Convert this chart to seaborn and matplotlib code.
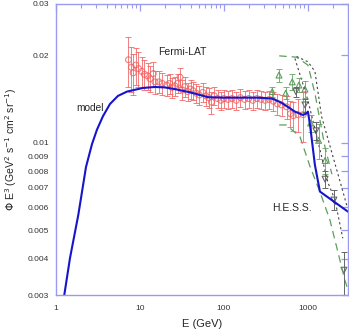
import numpy as np
import pandas as pd
import matplotlib
matplotlib.use('Agg')
import matplotlib.pyplot as plt
import seaborn as sns
from matplotlib.ticker import FixedLocator, NullFormatter, LogLocator

# model curve
model_E = [1.255, 1.468, 1.842, 2.276, 2.683, 3.076, 3.626, 4.394, 5.47, 7.0, 10.86, 15.1, 20, 26,
           40, 65, 100, 164, 250, 373, 470, 578, 700, 872, 950, 1000, 1060, 1210, 1390, 3000]
model_V = [0.0030, 0.00402, 0.00565, 0.00826, 0.00990, 0.01110, 0.01235, 0.01360, 0.0145, 0.01500,
           0.01544, 0.01556, 0.0155, 0.0153, 0.0149, 0.01435, 0.0143, 0.0143, 0.0143, 0.0142,
           0.0138, 0.01328, 0.0128, 0.01247, 0.0126, 0.0128, 0.0115, 0.0084, 0.0068, 0.0058]

# Fermi-LAT points
fermi_E = [7.3, 7.9, 8.3, 8.9, 9.6, 10.5, 11.3, 12.3, 13.2, 14.4, 15.1, 16.8, 18.4, 20.8, 22.5,
           24, 26, 28, 30, 32, 34, 37, 40, 43, 47, 51, 56, 61, 66, 71, 77, 84, 92, 100, 112,
           125, 140, 157, 176, 197, 220, 247, 276, 309, 346, 388, 434, 486, 557, 620, 668, 760, 879]
fermi_V = [0.0193, 0.0182, 0.0174, 0.0185, 0.0180, 0.0176, 0.0172, 0.0170, 0.0166, 0.0173,
           0.0162, 0.0162, 0.0160, 0.0158, 0.0160, 0.0155, 0.0157, 0.0160, 0.0168, 0.0152,
           0.0156, 0.0150, 0.0153, 0.0151, 0.0148, 0.0146, 0.0149, 0.0145, 0.0143, 0.0138,
           0.0145, 0.0142, 0.0140, 0.0142, 0.0141, 0.0142, 0.0140, 0.0143, 0.0141, 0.0142,
           0.0140, 0.0142, 0.0141, 0.0140, 0.0141, 0.0139, 0.0136, 0.0135, 0.0133, 0.0126,
           0.0124, 0.0125, 0.0125]
fermi_err = [0.0038, 0.0032, 0.0028, 0.0027, 0.0025, 0.0022, 0.0020, 0.0018, 0.0017, 0.0017,
             0.0015, 0.0014, 0.0014, 0.0013, 0.0013, 0.0012, 0.0012, 0.0012, 0.0013, 0.0012,
             0.0012, 0.0011, 0.0011, 0.0011, 0.0011, 0.0011, 0.0011, 0.0011, 0.0011, 0.0012,
             0.0010, 0.0010, 0.0010, 0.0010, 0.0010, 0.0010, 0.0010, 0.0010, 0.0010, 0.0010,
             0.0010, 0.0010, 0.0010, 0.0010, 0.0010, 0.0010, 0.0011, 0.0011, 0.0012, 0.0013,
             0.0014, 0.0016, 0.0024]

# green triangles
tri_E = [376, 452, 543, 650, 781, 921, 1077, 1340, 1600]
tri_V = [0.0150, 0.0171, 0.0148, 0.0162, 0.0158, 0.0153, 0.0117, 0.0102, 0.0087]
tri_err = [0.0006, 0.0009, 0.0007, 0.0010, 0.0009, 0.0010, 0.0008, 0.0014, 0.0009]

# H.E.S.S. points
hess_E = [719, 921, 1245, 1600, 2040, 2680]
hess_V = [0.0150, 0.0135, 0.0110, 0.0075, 0.00636, 0.00365]
hess_lo = [0.0006, 0.0007, 0.0008, 0.0005, 0.0005, 0.0010]
hess_hi = [0.0006, 0.0007, 0.0008, 0.0005, 0.0005, 0.00058]

# envelopes
green_hi_E = [455, 733, 1000, 1211, 1593, 1930]
green_hi_V = [0.0199, 0.0197, 0.0185, 0.0148, 0.0097, 0.0078]
green_lo_E = [455, 552, 803, 1061, 1390, 1828, 2757, 3000]
green_lo_V = [0.01152, 0.01152, 0.0105, 0.00828, 0.00678, 0.00543, 0.00337, 0.00312]
gray_a_E = [700, 1000, 1245, 1730, 2090, 2600]
gray_a_V = [0.0195, 0.0140, 0.0108, 0.0073, 0.0064, 0.0047]
gray_b_E = [733, 1000, 1211, 1456, 2197, 2900]
gray_b_V = [0.0198, 0.0190, 0.0176, 0.0123, 0.0081, 0.0061]

ytick_vals = [0.003, 0.004, 0.005, 0.006, 0.007, 0.008, 0.009, 0.01, 0.02, 0.03]
ytick_labels = ['0.003', '0.004', '0.005', '0.006', '0.007', '0.008', '0.009', '0.01', '0.02', '0.03']
xtick_vals = [1, 10, 100, 1000]
xtick_labels = ['1', '10', '100', '1000']

sns.set_style('white')
plt.rcParams['font.family'] = ['Liberation Sans', 'DejaVu Sans']

fig = plt.figure(figsize=(3.49, 3.34), dpi=100)
ax = fig.add_axes([56/349, 1-295/334, 292/349, 291/334])
ax.set_xscale('log')
ax.set_yscale('log')

red = '#f06060'
green = '#5c9e5c'
gray = '#666666'

for E, V in [(green_hi_E, green_hi_V), (green_lo_E, green_lo_V)]:
    sns.lineplot(x=E, y=V, ax=ax, color=green, lw=0.9, sort=False, estimator=None,
                 linestyle=(0, (6, 4)))
for E, V in [(gray_a_E, gray_a_V), (gray_b_E, gray_b_V)]:
    sns.lineplot(x=E, y=V, ax=ax, color='#444444', lw=0.8, sort=False, estimator=None,
                 linestyle=(0, (2, 2.5)))

ax.errorbar(fermi_E, fermi_V, yerr=fermi_err, fmt='none', ecolor=red, elinewidth=0.7,
            capsize=2, capthick=0.7, alpha=0.8)
sns.scatterplot(x=fermi_E, y=fermi_V, ax=ax, marker='o', s=18, facecolor='none',
                edgecolor=red, linewidth=0.8, alpha=0.8)

ax.errorbar(tri_E, tri_V, yerr=tri_err, fmt='none', ecolor=green, elinewidth=0.7,
            capsize=2, capthick=0.7, alpha=0.8)
sns.scatterplot(x=tri_E, y=tri_V, ax=ax, marker='^', s=18, facecolor='none',
                edgecolor=green, linewidth=0.8)

ax.errorbar(hess_E, hess_V, yerr=[hess_lo, hess_hi], fmt='none', ecolor=gray, elinewidth=0.7,
            capsize=2, capthick=0.7)
sns.scatterplot(x=hess_E, y=hess_V, ax=ax, marker='v', s=18, facecolor='none',
                edgecolor=gray, linewidth=0.8)

sns.lineplot(x=model_E, y=model_V, ax=ax, color='#1515cc', lw=1.5, sort=False, estimator=None)

ax.set_xlim(1, 3000)
ax.set_ylim(0.003, 0.03)

ax.yaxis.set_major_locator(FixedLocator(ytick_vals))
ax.set_yticklabels(ytick_labels)
ax.yaxis.set_minor_locator(FixedLocator([]))
ax.xaxis.set_major_locator(FixedLocator(xtick_vals))
ax.set_xticklabels(xtick_labels)
ax.xaxis.set_minor_locator(LogLocator(base=10, subs=np.arange(2, 10)))
ax.xaxis.set_minor_formatter(NullFormatter())

spine_col = '#9a9aee'
for s in ax.spines.values():
    s.set_color(spine_col)
    s.set_linewidth(1.0)
ax.tick_params(which='both', direction='in', top=True, right=True, color=spine_col,
               labelsize=6, labelcolor='#333333')
ax.tick_params(axis='x', which='both', pad=7)
ax.tick_params(axis='y', which='both', pad=5)
ax.tick_params(which='major', length=5, width=0.9)
ax.tick_params(which='minor', length=3, width=0.8)

ax.set_xlabel('E (GeV)', fontsize=8, labelpad=5)
ax.set_ylabel(r'$\Phi$ E$^3$ (GeV$^2$ s$^{-1}$ cm$^2$ sr$^{-1}$)', fontsize=7.5, labelpad=6)

ax.text(158/349, 1-52/334, 'Fermi-LAT', transform=fig.transFigure, fontsize=7.5, va='center')
ax.text(76/349, 1-108/334, 'model', transform=fig.transFigure, fontsize=7.3, va='center')
ax.text(272/349, 1-208/334, 'H.E.S.S.', transform=fig.transFigure, fontsize=7.5, va='center')

fig.savefig('out.png', dpi=100)
